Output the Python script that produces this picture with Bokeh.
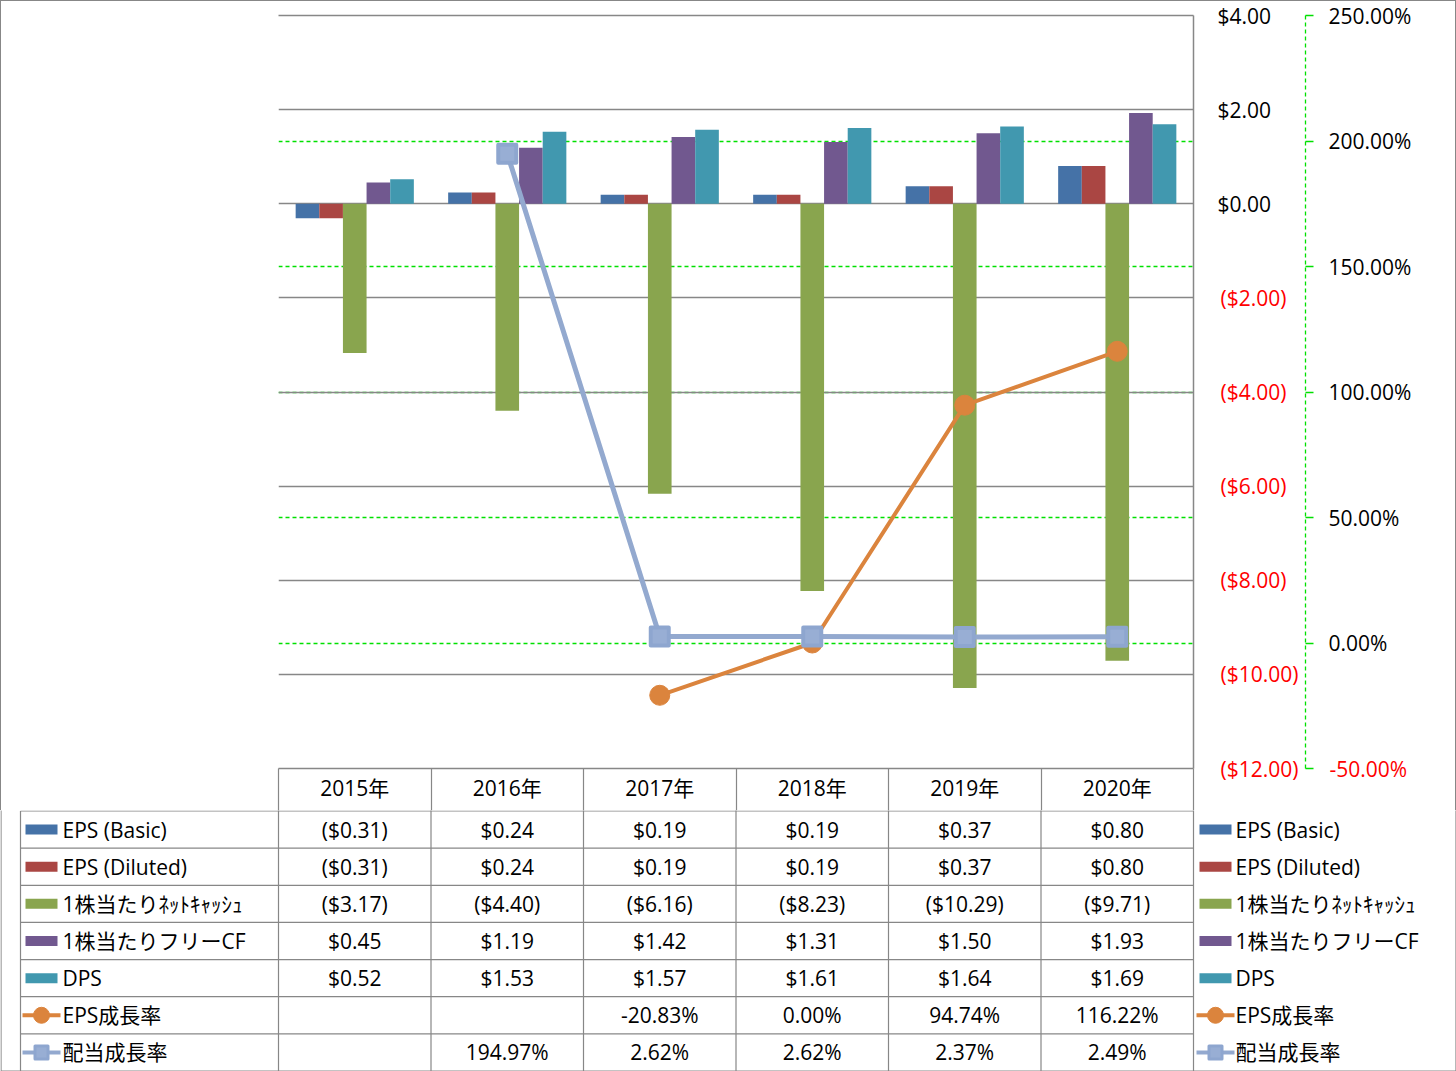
from bokeh.plotting import figure
from bokeh.models import (Range1d, LinearAxis, FixedTicker, PrintfTickFormatter,
                          NumeralTickFormatter, Grid, ColumnDataSource)
from bokeh.core.properties import value
from bokeh.embed import file_html
from bokeh.resources import INLINE

# ---------------- data ----------------
years = ["2015年", "2016年", "2017年", "2018年", "2019年", "2020年"]
eps_basic = [-0.31, 0.24, 0.19, 0.19, 0.37, 0.80]
eps_diluted = [-0.31, 0.24, 0.19, 0.19, 0.37, 0.80]
net_cash = [-3.17, -4.40, -6.16, -8.23, -10.29, -9.71]
free_cf = [0.45, 1.19, 1.42, 1.31, 1.50, 1.93]
dps = [0.52, 1.53, 1.57, 1.61, 1.64, 1.69]
eps_growth = [None, None, -20.83, 0.00, 94.74, 116.22]
div_growth = [None, 194.97, 2.62, 2.62, 2.37, 2.49]

bar_names = ["EPS (Basic)", "EPS (Diluted)", "1株当たりﾈｯﾄｷｬｯｼｭ", "1株当たりフリーCF", "DPS"]
line_names = ["EPS成長率", "配当成長率"]
usd_ticks = [4, 2, 0, -2, -4, -6, -8, -10, -12]
pct_ticks = [250, 200, 150, 100, 50, 0, -50]
pct_grid = [200, 150, 100, 50, 0]

# ---------------- style / layout ----------------
FONT = "'Open Sans', 'Noto Sans CJK JP', sans-serif"
FS = "21px"
GRAY = "#878787"
GREEN = "#00E000"
RED = "#FF0000"
bar_colors = ["#4572A7", "#AA4643", "#89A54E", "#71588F", "#4198AF"]
ORANGE = "#DB843D"
LBLUE = "#93A9CF"
SQ_FILL = "#98AED4"
SQ_LINE = "#8EA6CF"

W = 1456
H1 = 810          # chart figure (incl. header row of the table)
H2 = 1071 - H1    # table body figure
FL, FR, FT, FB = 278, 1193, 15, 768
NCAT = len(years)
Y0, Y1 = -12, 4
P0, P1 = -50, 250
NROWS = 7
ROWH = (1070 - H1) / NROWS

W4 = 54     # width of "$4.00" label
W250 = 85   # width of "250.00%" label


def xd(px):
    return (px - FL) / (FR - FL) * NCAT


def money(v):
    return f"${v:.2f}" if v >= 0 else f"(${-v:.2f})"


def pct(v):
    return "" if v is None else f"{v:.2f}%"


def nanify(a):
    return [float("nan") if v is None else v for v in a]


centers = [i + 0.5 for i in range(NCAT)]
edges = [float(i) for i in range(NCAT + 1)]

# ================= chart figure =================
p = figure(width=W, height=H1, title=None,
           x_range=Range1d(0, NCAT), y_range=Range1d(Y0, Y1),
           x_axis_location="below", y_axis_location="right",
           toolbar_location=None, output_backend="svg",
           min_border_left=FL, min_border_right=W - FR,
           min_border_top=FT, min_border_bottom=H1 - FB,
           outline_line_color=None,
           background_fill_color="white", border_fill_color=None,
           styles={"background-color": "white",
                   "box-shadow": "inset 1px 1px 0 0 #878787, inset -1px 0 0 0 #878787"})

# x axis = header row of the data table
xa = p.xaxis[0]
xa.ticker = FixedTicker(ticks=centers, minor_ticks=edges)
xa.major_label_overrides = {c: y for c, y in zip(centers, years)}
xa.major_tick_out = 0
xa.major_tick_in = 0
xa.minor_tick_out = H1 - FB
xa.minor_tick_in = 0
xa.minor_tick_line_color = GRAY
xa.minor_tick_line_width = 1.2
xa.axis_line_color = GRAY
xa.axis_line_width = 1.3
xa.major_label_standoff = -37
xa.major_label_text_font = FONT
xa.major_label_text_font_size = FS
xa.major_label_text_color = "black"

# top border line of the plot area
top_ax = LinearAxis(ticker=FixedTicker(ticks=[]), axis_line_color=GRAY, axis_line_width=1.3,
                    major_tick_out=0, major_tick_in=0, minor_tick_out=0, minor_tick_in=0)
p.add_layout(top_ax, "above")

# primary axis ($) - non-negative labels in black
ax = p.yaxis[0]
pos_usd = [t for t in usd_ticks if t >= 0]
neg_usd = [t for t in usd_ticks if t < 0]
ax.ticker = FixedTicker(ticks=pos_usd)
ax.formatter = NumeralTickFormatter(format="$0.00")
ax.major_tick_out = 0
ax.major_tick_in = 0
ax.minor_tick_out = 0
ax.minor_tick_in = 0
ax.axis_line_color = GRAY
ax.axis_line_width = 1.5
ax.major_label_standoff = 24
ax.major_label_text_font = FONT
ax.major_label_text_font_size = FS
ax.major_label_text_color = "black"

# primary axis ($) - negative labels in red, aligned under the black ones
axr = LinearAxis(ticker=FixedTicker(ticks=neg_usd),
                 major_label_overrides={t: money(t) for t in neg_usd},
                 axis_line_color=None, major_tick_out=0, major_tick_in=0,
                 minor_tick_out=0, minor_tick_in=0,
                 major_label_standoff=-W4,
                 major_label_text_font=FONT, major_label_text_font_size=FS,
                 major_label_text_color=RED,
                 axis_label=" ", axis_label_text_font_size="8px", axis_label_standoff=-8)
p.add_layout(axr, "right")

p.ygrid[0].ticker = FixedTicker(ticks=usd_ticks)
p.ygrid[0].grid_line_color = GRAY
p.ygrid[0].grid_line_width = 1.3
p.xgrid.visible = False

# secondary axis (%)
p.extra_y_ranges = {"pct": Range1d(P0, P1)}
neg_pct = [t for t in pct_ticks if t < 0]
ax2 = LinearAxis(y_range_name="pct", ticker=FixedTicker(ticks=pct_ticks),
                 formatter=PrintfTickFormatter(format="%.2f%%"),
                 major_label_overrides={t: "" for t in neg_pct},
                 axis_line_color=GREEN, axis_line_dash="4 3", axis_line_width=1.3,
                 major_tick_out=8, major_tick_in=0, major_tick_line_color=GREEN,
                 major_tick_line_width=1.3,
                 minor_tick_out=0, minor_tick_in=0,
                 major_label_standoff=15,
                 major_label_text_font=FONT, major_label_text_font_size=FS,
                 major_label_text_color="black")
p.add_layout(ax2, "right")
ax2r = LinearAxis(y_range_name="pct", ticker=FixedTicker(ticks=neg_pct),
                  major_label_overrides={t: pct(t) for t in neg_pct},
                  axis_line_color=None, major_tick_out=0, major_tick_in=0,
                  minor_tick_out=0, minor_tick_in=0,
                  major_label_standoff=-W250,
                  major_label_text_font=FONT, major_label_text_font_size=FS,
                  major_label_text_color=RED,
                  axis_label=" ", axis_label_text_font_size="8px", axis_label_standoff=10)
p.add_layout(ax2r, "right")

# secondary (green dashed) grid drawn beneath the primary grey grid
grid2 = Grid(dimension=1, y_range_name="pct", ticker=FixedTicker(ticks=pct_grid),
             grid_line_color=GREEN, grid_line_dash="4 3", grid_line_width=1.4)
p.center = [grid2] + list(p.center)

# bars
bw = 0.155
bar_series = [eps_basic, eps_diluted, net_cash, free_cf, dps]
for k, (vals, col) in enumerate(zip(bar_series, bar_colors)):
    src = ColumnDataSource(dict(x=[c + (k - 2) * bw for c in centers], top=vals))
    p.vbar(x="x", top="top", bottom=0, width=bw, source=src,
           fill_color=col, line_color=None)

# growth lines
eps_src = ColumnDataSource(dict(x=centers, y=nanify(eps_growth)))
div_src = ColumnDataSource(dict(x=centers, y=nanify(div_growth)))
p.line("x", "y", source=eps_src, y_range_name="pct", line_color=ORANGE, line_width=4)
p.scatter("x", "y", source=eps_src, y_range_name="pct", marker="circle",
          size=20, fill_color=ORANGE, line_color=ORANGE, line_width=1)
p.line("x", "y", source=div_src, y_range_name="pct", line_color=LBLUE, line_width=5)
p.scatter("x", "y", source=div_src, y_range_name="pct", marker="square",
          size=18, fill_color=SQ_FILL, line_color=SQ_LINE, line_width=4, line_join="round")

# ================= table body figure =================
t = figure(width=W, height=H2, title=None,
           x_range=Range1d(xd(0), xd(W)),
           y_range=Range1d((H2 - 0.5) / ROWH, -0.5 / ROWH),
           x_axis_location=None, y_axis_location=None,
           toolbar_location=None, output_backend="svg",
           min_border_left=0, min_border_right=0, min_border_top=0, min_border_bottom=0,
           outline_line_color=None,
           background_fill_color="white", border_fill_color="white")
t.xgrid.visible = False
t.ygrid.visible = False

seg = dict(x0=[], y0=[], x1=[], y1=[])


def add_seg(x0, y0, x1, y1):
    seg["x0"].append(x0); seg["y0"].append(y0)
    seg["x1"].append(x1); seg["y1"].append(y1)


for r in range(NROWS):
    add_seg(xd(20), r, float(NCAT), r)
add_seg(xd(0.5), NROWS, xd(W - 0.5), NROWS)
add_seg(xd(20), 0, xd(20), NROWS)
for e in edges:
    add_seg(e, -1, e, NROWS)
add_seg(xd(0.5), -1, xd(0.5), NROWS)
add_seg(xd(W - 0.5), -1, xd(W - 0.5), NROWS)
t.segment(x0="x0", y0="y0", x1="x1", y1="y1", source=ColumnDataSource(seg),
          line_color=GRAY, line_width=1.2)

rows_text = [[money(v) for v in s] for s in bar_series] + \
            [[pct(v) for v in eps_growth], [pct(v) for v in div_growth]]
tx, ty, tt = [], [], []
for r, row in enumerate(rows_text):
    for c, s in enumerate(row):
        if s:
            tx.append(centers[c]); ty.append(r + 0.5); tt.append(s)
t.text(x="x", y="y", text="text", source=ColumnDataSource(dict(x=tx, y=ty, text=tt)),
       text_font=value(FONT), text_font_size=FS, text_color="black",
       text_align="center", text_baseline="middle")

# legend keys (left key column and right legend)
for sw_l, sw_r, lab_x in ((25, 57, 62), (1199, 1231, 1235)):
    mid = (sw_l + sw_r) / 2
    nb = len(bar_names)
    t.rect(x=[xd(mid)] * nb, y=[r + 0.5 for r in range(nb)], width=sw_r - sw_l, height=10,
           width_units="screen", height_units="screen",
           fill_color=bar_colors, line_color=None)
    ly = [nb + 0.5, nb + 1.5]
    t.segment(x0=[xd(sw_l - 3)] * 2, x1=[xd(sw_r + 3)] * 2, y0=ly, y1=ly,
              line_color=[ORANGE, LBLUE], line_width=4)
    t.scatter(x=[xd(mid)], y=[ly[0]], marker="circle", size=16,
              fill_color=ORANGE, line_color=ORANGE)
    t.scatter(x=[xd(mid)], y=[ly[1]], marker="square", size=13,
              fill_color=SQ_FILL, line_color=SQ_LINE, line_width=3, line_join="round")
    names = bar_names + line_names
    t.text(x=[xd(lab_x)] * len(names), y=[r + 0.5 for r in range(len(names))], text=names,
           text_font=value(FONT), text_font_size=FS, text_color="black",
           text_align="left", text_baseline="middle")

open("out.html", "w").write(file_html((p, t), INLINE))
